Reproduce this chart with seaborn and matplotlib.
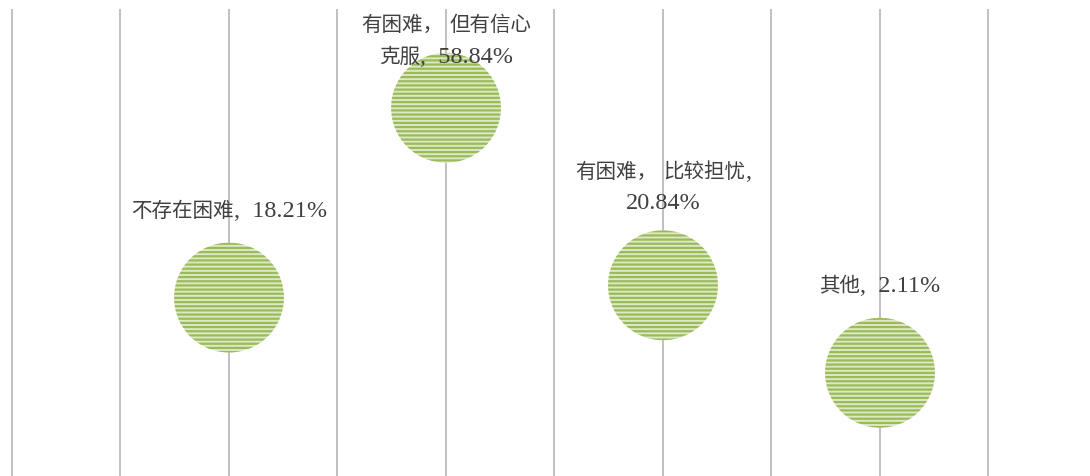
import matplotlib
matplotlib.use("Agg")
import matplotlib.pyplot as plt
import seaborn as sns
import pandas as pd
from matplotlib.offsetbox import TextArea, HPacker, VPacker, AnnotationBbox

# ---- data ----
categories = ["不存在困难", "有困难， 但有信心\n克服", "有困难， 比较担忧", "其他"]
values = [18.21, 58.84, 20.84, 2.11]
label_seps = ["  ", "  ", "\n", "  "]
positions = [1, 2, 3, 4]

sns.set_theme(style="white")
plt.rcParams['font.family'] = ['Liberation Serif', 'Noto Sans CJK SC', 'DejaVu Sans']
plt.rcParams['hatch.linewidth'] = 1.6

df = pd.DataFrame({"x": positions, "y": values, "cat": categories})

fig = plt.figure(figsize=(10.9, 4.77), dpi=100)
ax = fig.add_axes([0, 0, 1, 467 / 477])

sns.scatterplot(data=df, x="x", y="y", ax=ax, s=6250, color="#dce9c6",
                edgecolor="#9bbb59", linewidth=0, hatch="----", legend=False,
                zorder=3)

ax.set_xlim(-12 / 217, 1078 / 217)
ax.set_ylim(-20, 80)
ax.set_xticks([i * 0.5 for i in range(10)])
ax.set_yticks([])
ax.grid(axis="x", color="#c0c0c0", linewidth=1.4)
ax.grid(axis="y", visible=False)
ax.set_axisbelow(True)
ax.tick_params(axis="x", length=0, labelbottom=False)
ax.set_xlabel("")
ax.set_ylabel("")
for s in ax.spines.values():
    s.set_visible(False)

TXT = "#404040"


def is_cjk(ch):
    return ord(ch) >= 0x2E80


def line_box(line):
    runs = []
    for ch in line:
        kind = is_cjk(ch)
        if runs and runs[-1][0] == kind:
            runs[-1][1] += ch
        else:
            runs.append([kind, ch])
    areas = []
    for kind, txt in runs:
        if kind:
            props = dict(fontsize=14.8, family="Noto Sans CJK SC", color=TXT,
                         fontweight="light")
        else:
            props = dict(fontsize=17.5, family="Liberation Serif", color=TXT)
        areas.append(TextArea(txt, textprops=props))
    return HPacker(children=areas, align="baseline", pad=0, sep=0)


# label offsets in pixels above bubble centre
offsets_px = [88, 68, 99, 88]
for x, v, c, sep, off in zip(positions, values, categories, label_seps, offsets_px):
    label = f"{c},{sep}{v:.2f}%"
    lines = [line_box(l) for l in label.split("\n")]
    box = VPacker(children=lines, align="center", pad=0, sep=7)
    ab = AnnotationBbox(box, (x, v), xybox=(0, off * 72 / 100),
                        xycoords="data", boxcoords="offset points",
                        frameon=False, box_alignment=(0.5, 0.5), zorder=4)
    ax.add_artist(ab)

fig.savefig("out.png", dpi=100)
